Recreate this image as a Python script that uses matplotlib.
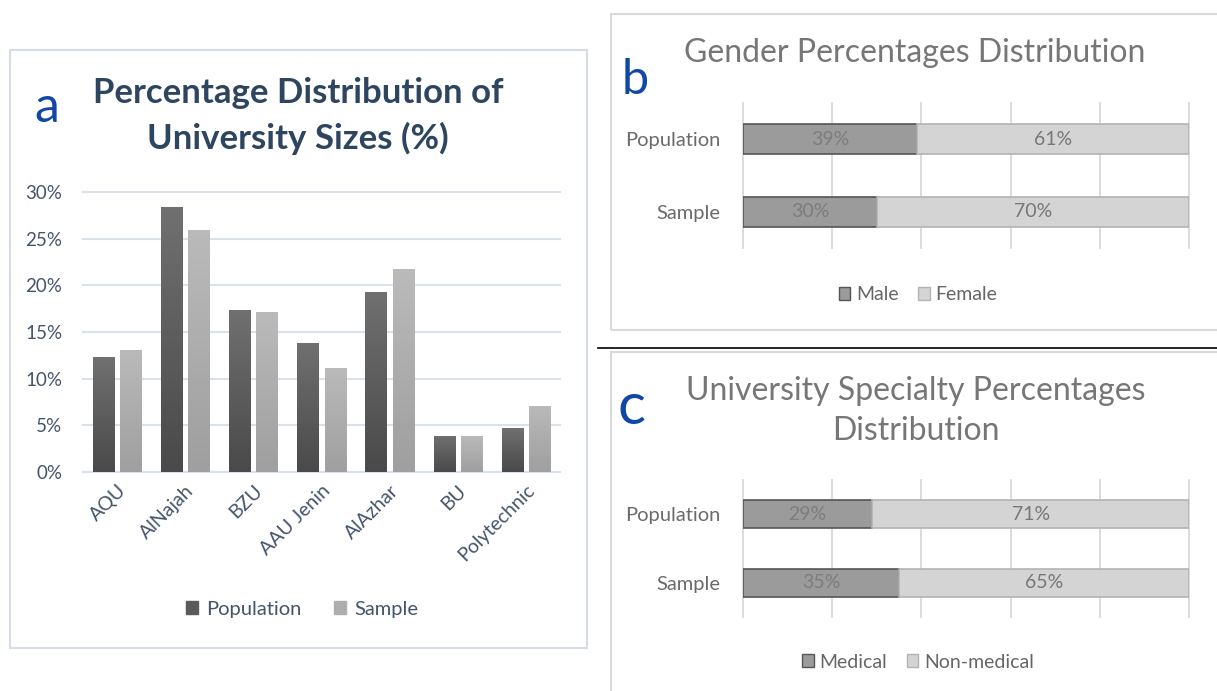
import numpy as np
import matplotlib.pyplot as plt
from matplotlib.patches import Rectangle
from matplotlib.lines import Line2D
from matplotlib.colors import LinearSegmentedColormap

plt.rcParams['font.family'] = ['Lato', 'DejaVu Sans']

W, H = 1217, 691

# panel a data
universities = ['AQU', 'AlNajah', 'BZU', 'AAU Jenin', 'AlAzhar', 'BU', 'Polytechnic']
pop_sizes = [12.3, 28.4, 17.4, 13.8, 19.3, 3.9, 4.7]
sample_sizes = [13.1, 25.9, 17.1, 11.1, 21.7, 3.9, 7.1]

# panel b/c data
groups = ['Sample', 'Population']
male = [30, 39]
female = [70, 61]
medical = [35, 29]
nonmedical = [65, 71]


def box(l, t, r, b):
    return [l / W, 1 - b / H, (r - l) / W, (b - t) / H]


fig = plt.figure(figsize=(W / 100, H / 100), dpi=100)
fig.patch.set_facecolor('white')

# frames around panels
fig.add_artist(Rectangle((10 / W, 1 - 648 / H), 577 / W, 598 / H, transform=fig.transFigure,
                         fill=False, edgecolor='#d6dce5', lw=1.5))
fig.add_artist(Rectangle((611 / W, 1 - 330 / H), 620 / W, 316 / H, transform=fig.transFigure,
                         fill=False, edgecolor='#d9d9d9', lw=1.5))
fig.add_artist(Rectangle((611 / W, 1 - 700 / H), 620 / W, 348 / H, transform=fig.transFigure,
                         fill=False, edgecolor='#d9d9d9', lw=1.5))
fig.add_artist(Line2D([598 / W, 1], [1 - 348 / H, 1 - 348 / H], transform=fig.transFigure,
                      color='black', lw=1.2))

# ---- panel a ----
pop_color = '#5b5b5b'
samp_color = '#adadad'
ax = fig.add_axes(box(83, 192, 560, 472))
x = np.arange(len(universities))
pop_bars = ax.bar(x - 0.2, pop_sizes, 0.31, color=pop_color, zorder=3)
samp_bars = ax.bar(x + 0.2, sample_sizes, 0.31, color=samp_color, zorder=3)

# soft vertical shading like the original (lighter top, darker base)
grad = np.linspace(0, 1, 64).reshape(-1, 1)
for bars, c_top, c_bot in [(pop_bars, '#707070', '#4a4a4a'), (samp_bars, '#bababa', '#9f9f9f')]:
    cmap = LinearSegmentedColormap.from_list('g', [c_bot, c_top])
    for b in bars:
        bx, bw, bh = b.get_x(), b.get_width(), b.get_height()
        im = ax.imshow(grad, cmap=cmap, extent=(bx, bx + bw, 0, bh), origin='lower',
                       aspect='auto', zorder=4)
        im.set_clip_path(b)

ax.set_xlim(-0.5, len(universities) - 0.5)
ax.set_ylim(0, 30)
ax.set_yticks(range(0, 31, 5))
ax.set_yticklabels([f'{v}%' for v in range(0, 31, 5)])
ax.yaxis.grid(True, color='#d9e1ea', lw=1.5, zorder=0)
ax.set_axisbelow(True)
for s in ax.spines.values():
    s.set_visible(False)
ax.tick_params(axis='y', length=0, pad=15, labelsize=13.5, labelcolor='#44546a')
ax.set_xticks(x)
ax.set_xticklabels(universities, rotation=45, ha='right', rotation_mode='anchor')
ax.tick_params(axis='x', length=0, pad=7, labelsize=14, labelcolor='#44546a')
ax.axhline(0, color='#d9e1ea', lw=1.5, zorder=1, clip_on=False)
for gl in ax.get_ygridlines():
    gl.set_clip_on(False)

fig.text(298 / W, 1 - 116 / H, 'Percentage Distribution of\nUniversity Sizes (%)', ha='center',
         va='center', fontsize=25, fontweight='bold', color='#2e4560', linespacing=1.48)
fig.text(47 / W, 1 - 108 / H, 'a', ha='center', va='center', fontsize=36, color='#1148a6')

fig.legend(handles=[Rectangle((0, 0), 1, 1, color=pop_color), Rectangle((0, 0), 1, 1, color=samp_color)],
           labels=['Population', 'Sample'], loc='center', bbox_to_anchor=(302 / W, 1 - 609 / H),
           ncol=2, frameon=False, fontsize=14.5, labelcolor='#44546a', handlelength=0.6,
           handleheight=0.6, handletextpad=0.4, columnspacing=1.6)


# ---- panels b and c ----
def stacked(axb, left_vals, right_vals, left_name, right_name, leg_y):
    y = np.arange(len(groups))
    axb.barh(y, left_vals, 0.41, color='#9b9b9b', edgecolor='#555555', lw=1.2, zorder=3)
    axb.barh(y, right_vals, 0.41, left=left_vals, color='#d4d4d4', edgecolor='#b3b3b3', lw=1.2, zorder=3)
    for yi, lv, rv in zip(y, left_vals, right_vals):
        axb.text(lv / 2, yi, f'{lv}%', ha='center', va='center', fontsize=14, color='#7d7d7d', zorder=4)
        axb.text(lv + rv / 2, yi, f'{rv}%', ha='center', va='center', fontsize=14, color='#777777', zorder=4)
    axb.set_xlim(0, 100)
    axb.set_ylim(-0.5, 1.5)
    axb.set_xticks(range(0, 101, 20))
    axb.xaxis.grid(True, color='#d9d9d9', lw=1.3, zorder=0)
    for gl in axb.get_xgridlines():
        gl.set_clip_on(False)
    axb.set_xticklabels([])
    axb.set_yticks(y)
    axb.set_yticklabels(groups)
    axb.tick_params(axis='both', length=0)
    axb.tick_params(axis='y', pad=16, labelsize=14.5, labelcolor='#6b6b6b')
    for s in axb.spines.values():
        s.set_visible(False)
    fig.legend(handles=[Rectangle((0, 0), 1, 1, facecolor='#9b9b9b', edgecolor='#555555'),
                        Rectangle((0, 0), 1, 1, facecolor='#d4d4d4', edgecolor='#b3b3b3')],
               labels=[left_name, right_name], loc='center', bbox_to_anchor=(918 / W, 1 - leg_y / H),
               ncol=2, frameon=False, fontsize=14, labelcolor='#666666', handlelength=0.6,
               handleheight=0.6, handletextpad=0.3, columnspacing=1.0)


axb = fig.add_axes(box(743, 103, 1189, 248))
stacked(axb, male, female, 'Male', 'Female', 295)
fig.text(915 / W, 1 - 53 / H, 'Gender Percentages Distribution', ha='center', va='center',
         fontsize=23, color='#767676')
fig.text(635 / W, 1 - 80 / H, 'b', ha='center', va='center', fontsize=35, color='#1148a6')

axc = fig.add_axes(box(743, 480, 1189, 617))
stacked(axc, medical, nonmedical, 'Medical', 'Non-medical', 662)
fig.text(916 / W, 1 - 411 / H, 'University Specialty Percentages\nDistribution', ha='center',
         va='center', fontsize=23, color='#767676', linespacing=1.4)
fig.text(632 / W, 1 - 408 / H, 'c', ha='center', va='center', fontsize=42, color='#1148a6')

fig.savefig('out.png', dpi=100, facecolor='white')
